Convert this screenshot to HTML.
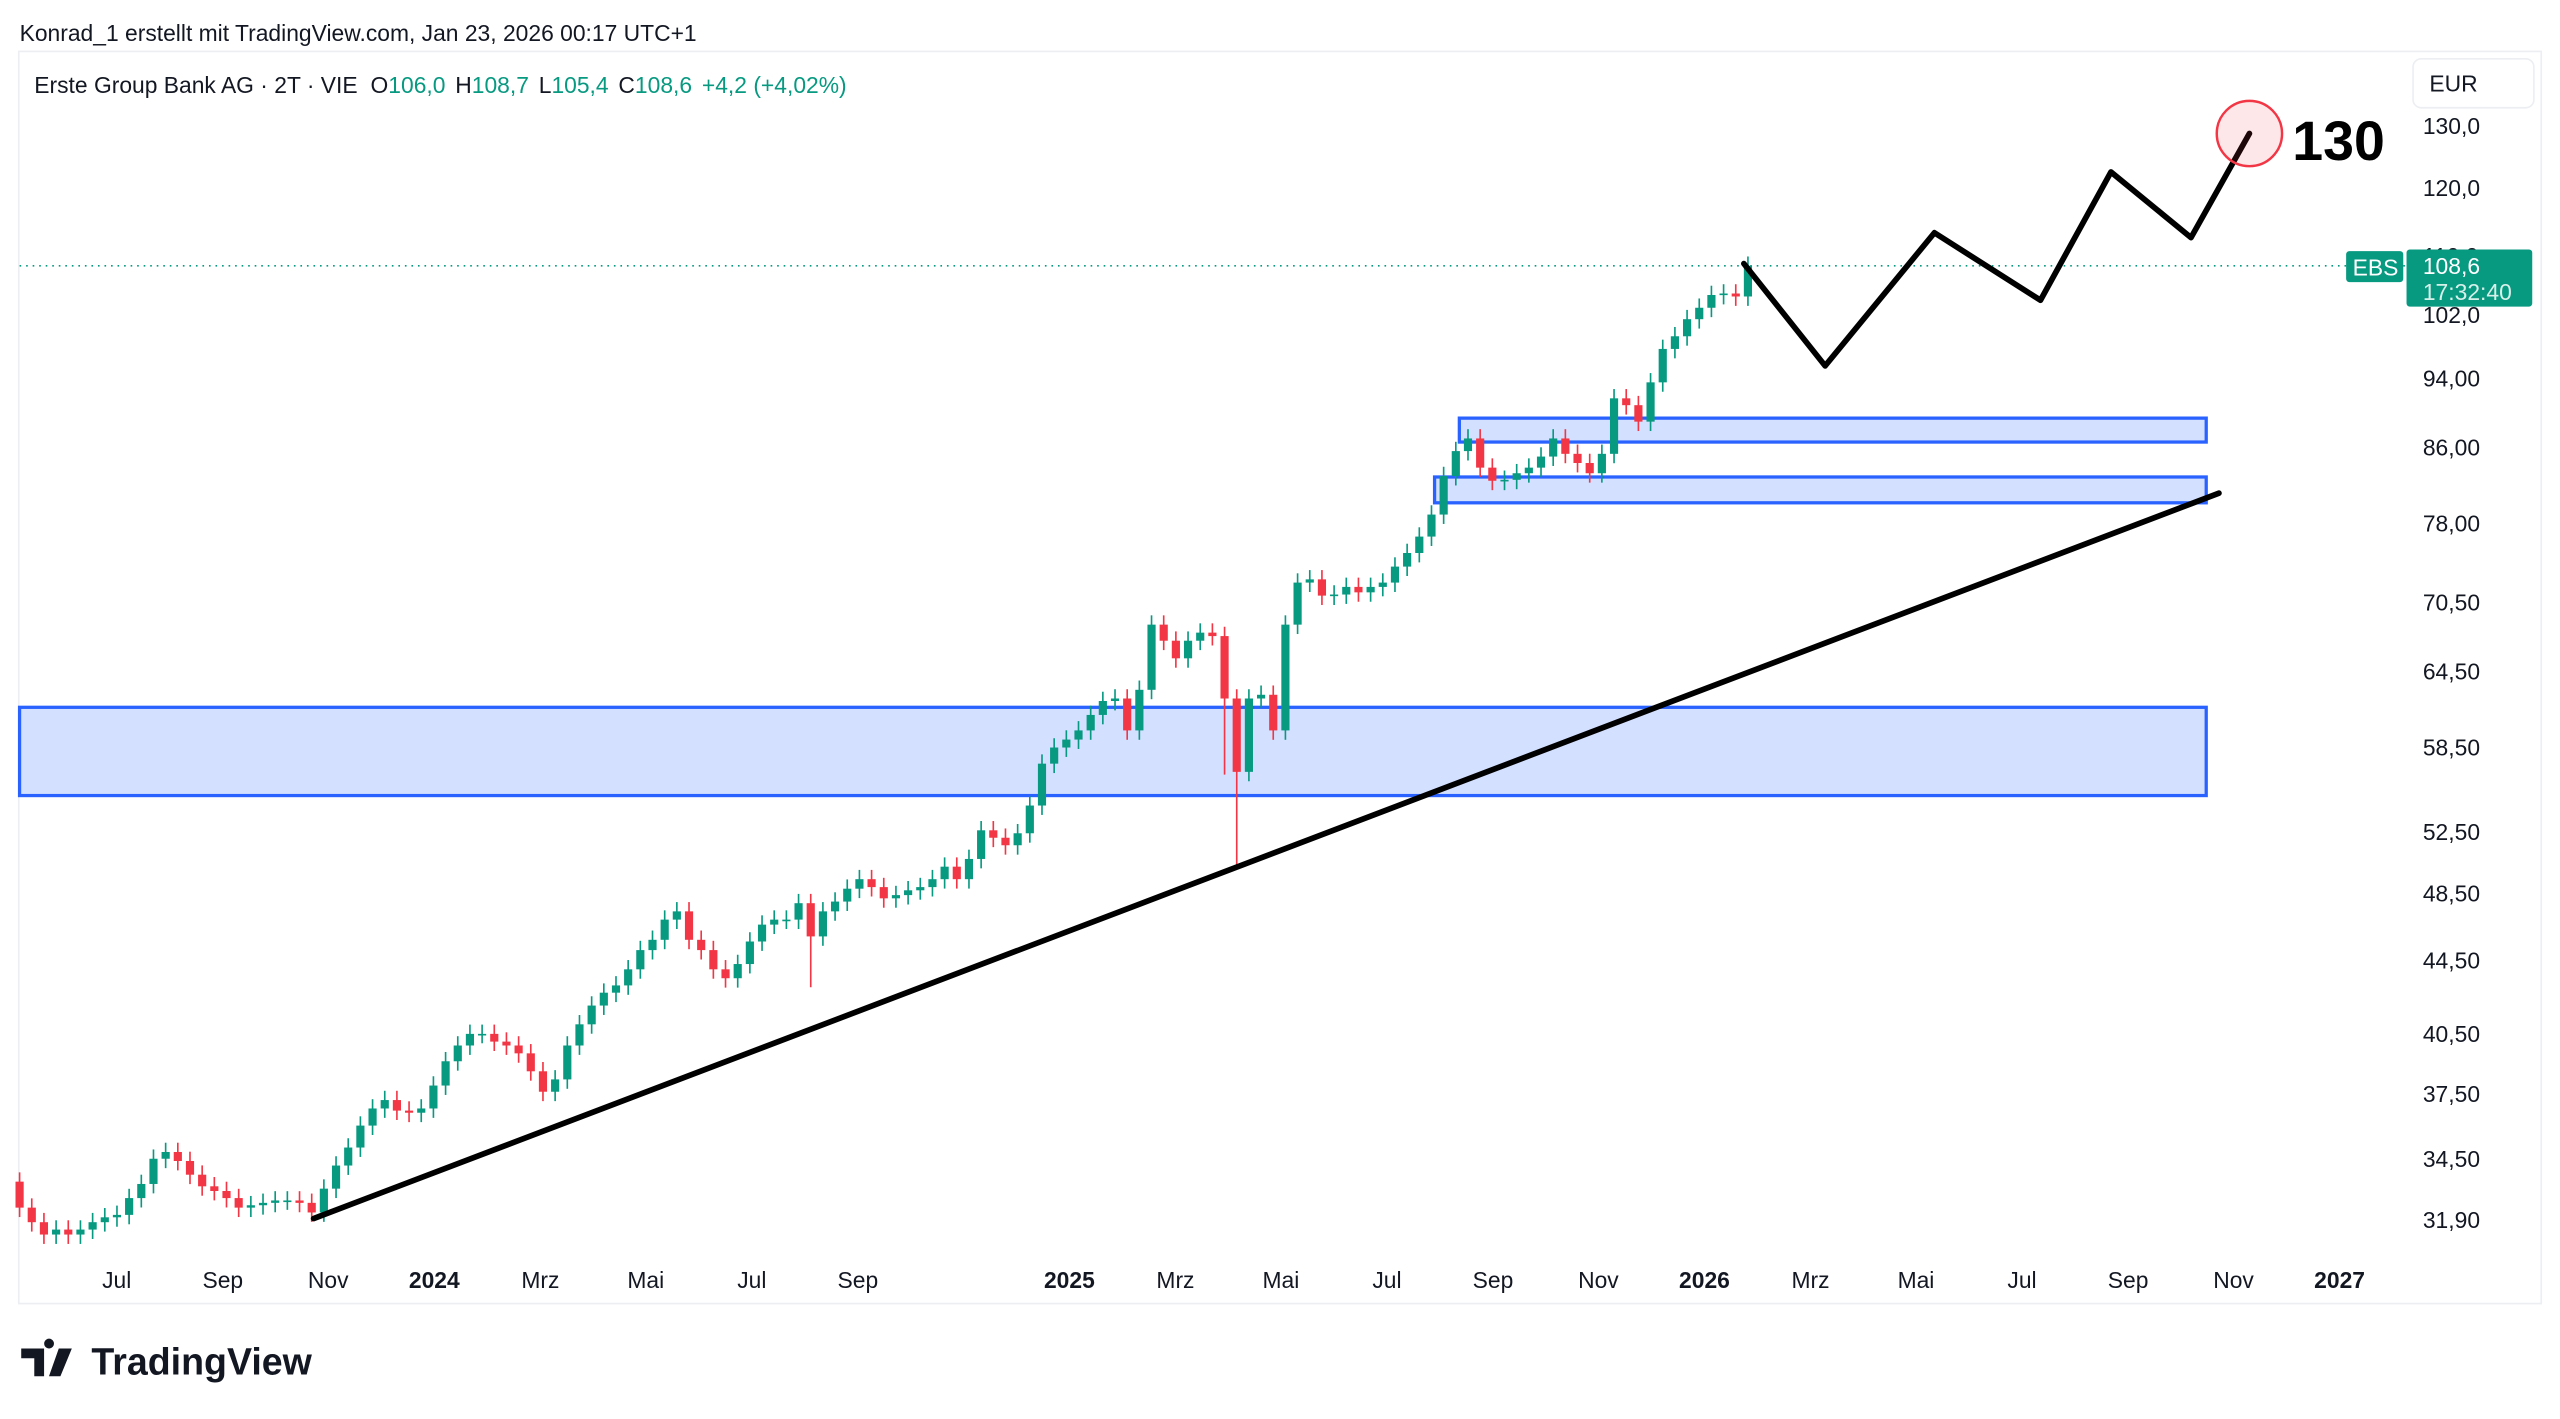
<!DOCTYPE html>
<html><head><meta charset="utf-8"><style>
html,body{margin:0;padding:0;background:#fff;}
svg{display:block;font-family:"Liberation Sans",sans-serif;}
</style></head><body>
<svg id="chart" width="2560" height="1419" viewBox="0 0 1568 869.2" preserveAspectRatio="none" xmlns="http://www.w3.org/2000/svg">
<text x="12" y="25" font-size="14" fill="#131722">Konrad_1 erstellt mit TradingView.com, Jan 23, 2026 00:17 UTC+1</text>
<rect x="11.5" y="31.5" width="1545" height="767" fill="none" stroke="#eceef2"/>
<text x="21" y="57" font-size="14" fill="#131722">Erste Group Bank AG · 2T · VIE <tspan dx="4">O</tspan><tspan fill="#089981">106,0</tspan><tspan dx="6">H</tspan><tspan fill="#089981">108,7</tspan><tspan dx="6">L</tspan><tspan fill="#089981">105,4</tspan><tspan dx="6">C</tspan><tspan fill="#089981">108,6</tspan><tspan dx="6" fill="#089981">+4,2 (+4,02%)</tspan></text>
<rect x="1478" y="36" width="74" height="30" rx="5" fill="#fff" stroke="#eceef2"/>
<text x="1488" y="56" font-size="14" fill="#131722">EUR</text>
<g id="zones"></g>
<g id="candles"></g>
<g id="drawings"></g>
<g id="yaxis"></g>
<g id="xaxis"></g>
<g>
<path d="M13 826h14v17h-6v-11h-8z M30 826a3 3 0 1 1 0.1 0z M36 826h8l-7 17h-7z" fill="#131722"/>
<text x="56" y="842" font-size="23" font-weight="bold" fill="#131722">TradingView</text>
</g>
</svg>
<script>
const closes=[32.4,31.8,31.3,31.5,31.3,31.5,31.8,32.0,32.1,32.8,33.4,34.5,34.8,34.4,33.8,33.3,33.1,32.8,32.4,32.5,32.6,32.7,32.7,32.6,32.2,33.2,34.2,35.0,36.0,36.8,37.2,36.7,36.6,36.8,37.9,39.1,39.9,40.5,40.5,40.1,39.9,39.5,38.6,37.6,38.2,39.9,41.0,42.0,42.7,43.1,44.0,45.1,45.7,46.9,47.4,45.7,45.1,44.0,43.5,44.3,45.6,46.6,46.9,46.9,47.9,45.9,47.4,48.0,48.8,49.4,48.9,48.2,48.4,48.7,48.9,49.4,50.2,49.4,50.7,52.6,52.1,51.6,52.4,54.3,57.3,58.5,59.1,59.8,61.0,62.1,62.3,59.8,63.0,68.5,67.1,65.6,67.1,67.8,67.5,62.3,56.7,62.3,62.6,59.8,68.5,72.3,72.6,71.1,71.2,71.9,71.4,71.9,72.3,73.8,75.1,76.7,78.9,82.9,85.6,87.0,83.8,82.4,82.5,83.2,83.8,85.0,87.0,85.3,84.3,83.2,85.3,91.6,90.8,88.9,93.5,97.6,99.2,101.4,102.9,104.6,104.8,104.4,108.6];
const firstOpen=33.5;
const spikeLows=[[100,50.3],[99,56.5],[65,43.0]];
const priceTicks=[130,120,110,102,94,86,78,70.5,64.5,58.5,52.5,48.5,44.5,40.5,37.5,34.5,31.9];
const timeLabels=["Jul","Sep","Nov","2024","Mrz","Mai","Jul","Sep","2025","Mrz","Mai","Jul","Sep","Nov","2026","Mrz","Mai","Jul","Sep","Nov","2027"];
const timeDates=[2023.5,2023.667,2023.833,2024,2024.167,2024.333,2024.5,2024.667,2025,2025.167,2025.333,2025.5,2025.667,2025.833,2026,2026.167,2026.333,2026.5,2026.667,2026.833,2027];
const zoneTops=[61.6,89.3,82.8];
const zoneBottoms=[55.0,86.6,80.1];
const zoneStarts=[2023.347,2025.614,2025.575];
const zoneEnd=2026.79;
const trendDates=[2023.81,2026.81];
const trendPrices=[31.95,81.1];
const zigDates=[2026.062,2026.19,2026.362,2026.529,2026.64,2026.766,2026.858];
const zigPrices=[108.9,95.5,113.3,103.9,122.5,112.6,128.7];
const lastPrice=108.6;

const NS="http://www.w3.org/2000/svg";
function yOf(p){return 77+477*Math.log(130/p);}
function xOfDate(t){return 266+(t-2024)*389;}
function xOfBar(i){return 12+7.455*i;}
function mk(tag,attrs,parent){const e=document.createElementNS(NS,tag);for(const k in attrs)e.setAttribute(k,attrs[k]);parent.appendChild(e);return e;}
function fmt(p){return p>=100?p.toFixed(1).replace('.',','):p.toFixed(2).replace('.',',');}

const zg=document.getElementById('zones');
zoneTops.forEach((t,k)=>{
  const x1=xOfDate(zoneStarts[k]),x2=xOfDate(zoneEnd);
  const r=mk('rect',{x:x1,y:yOf(t),width:x2-x1,height:yOf(zoneBottoms[k])-yOf(t),fill:'rgba(41,98,255,0.2)',stroke:'#2962ff','stroke-width':2},zg);
  
  
});

const cg=document.getElementById('candles');
closes.forEach((c,i)=>{
  const o=i===0?firstOpen:closes[i-1];
  const up=c>=o;
  const col=up?'#089981':'#f23645';
  let hi=Math.max(o,c)*1.012, lo=Math.min(o,c)*0.988;
  spikeLows.forEach(s=>{if(s[0]===i)lo=s[1];});
  const x=xOfBar(i);
  const w=mk('line',{x1:x,x2:x,y1:yOf(hi),y2:yOf(lo),stroke:col,'stroke-width':1},cg);
  
  
  const top=yOf(Math.max(o,c)),bot=yOf(Math.min(o,c));
  const b=mk('rect',{x:x-2.5,y:top,width:5,height:Math.max(1,bot-top),fill:col},cg);
  
  
});

const dg=document.getElementById('drawings');
const pl=mk('line',{x1:12,x2:1475,y1:yOf(lastPrice),y2:yOf(lastPrice),stroke:'#089981','stroke-width':1,'stroke-dasharray':'1 3'},dg);


const tl=mk('line',{x1:xOfDate(trendDates[0]),y1:yOf(trendPrices[0]),x2:xOfDate(trendDates[1]),y2:yOf(trendPrices[1]),stroke:'#000','stroke-width':3.5,'stroke-linecap':'round'},dg);


const zp=mk('polyline',{points:zigDates.map((d,k)=>xOfDate(d)+','+yOf(zigPrices[k])).join(' '),fill:'none',stroke:'#000','stroke-width':3.5,'stroke-linejoin':'round','stroke-linecap':'round'},dg);


const ci=mk('circle',{cx:xOfDate(zigDates[6]),cy:yOf(zigPrices[6]),r:20,fill:'rgba(242,54,69,0.12)',stroke:'#f23645','stroke-width':1.5},dg);


const tt=mk('text',{x:1404,y:98,'font-size':34,'font-weight':'bold',fill:'#000'},dg);
tt.textContent='130';



const yg=document.getElementById('yaxis');
priceTicks.forEach(p=>{
  const t=mk('text',{x:1484,y:yOf(p)+5,'font-size':14,fill:'#131722'},yg);
  t.textContent=fmt(p);
  
  
});
const eb=mk('rect',{x:1437,y:yOf(lastPrice)-9,width:35,height:19,rx:2,fill:'#089981'},yg);


const et=mk('text',{x:1441,y:yOf(lastPrice)+6,'font-size':14,fill:'#fff'},yg);
et.textContent='EBS';


const pb=mk('rect',{x:1474,y:yOf(lastPrice)-10,width:77,height:35,rx:2,fill:'#089981'},yg);


const pt=mk('text',{x:1484,y:yOf(lastPrice)+5,'font-size':14,fill:'#fff'},yg);
pt.textContent=fmt(lastPrice);


const ct=mk('text',{x:1484,y:yOf(lastPrice)+21,'font-size':14,fill:'#d6f0ea'},yg);
ct.textContent='17:32:40';



const xg=document.getElementById('xaxis');
timeLabels.forEach((l,k)=>{
  const yr=/^\d{4}$/.test(l);
  const t=mk('text',{x:xOfDate(timeDates[k]),y:789,'font-size':14,'text-anchor':'middle',fill:'#131722','font-weight':yr?'bold':'normal'},xg);
  t.textContent=l;
  
  
});
</script>
</body></html>
